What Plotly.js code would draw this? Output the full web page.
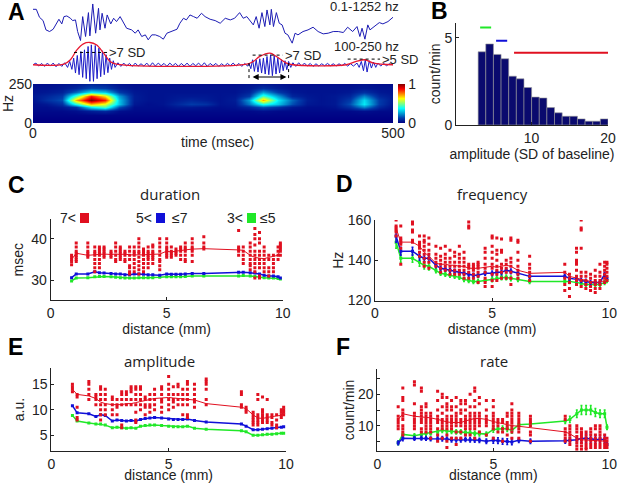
<!DOCTYPE html>
<html>
<head>
<meta charset="utf-8">
<script src="https://cdn.plot.ly/plotly-3.0.1.min.js"></script>
<style>body{margin:0;background:#fff}</style>
</head>
<body>
<div id="grafico" style="width:640px;height:483px"></div>
<script>
// panel A - traces
var rawT = [0,4.6,9,14,18,23,28,32,36,40,43,47,52,55,59,62,66,69,73,77,79,83,87,91,93,96,100,103,108,112,116,121,126,130,137,142,146,151,156,160,165,170,176,181,186,193,200,204,209,213,218,223,228,234,239,246,253,260,267,274,280,287,292,297,301,306,310,314,318,322,325,329,331,334,338,342,346,350,354,360,364,368,375,382,389,396,403,410,417,424,431,437,444,450,454,457,461,465,468,474,481,486,493,500];
var rawV = [112,112,88,78,50,45,52,68,82,68,90,92,85,78,80,45,18,90,30,102,32,128,40,115,50,100,55,95,68,85,75,90,68,55,50,40,50,30,35,20,35,35,30,22,40,45,52,70,85,80,95,90,85,100,90,82,78,70,85,80,85,102,85,90,80,65,90,55,102,60,110,65,112,60,102,70,65,40,35,10,40,35,45,50,58,45,38,40,45,45,42,58,45,60,30,55,22,65,50,60,72,68,75,88];
var filtT = [0,4,8,12,16,20,24,28,32,36,40,44,48,51,54,56.5,59,61.5,64,66.5,69,71.5,74,76.5,79,81,84,86.5,89,91.5,94,96.5,99,101.5,104,106.5,109,111.5,114,118,122,126,130,134,138,142,146,150,154,158,162,166,170,174,178,182,186,190,194,198,202,206,210,214,218,222,226,230,234,238,242,246,250,254,258,262,266,270,274,278,282,286,290,294,298,300,302.5,305,307.5,310,312.5,315,317.5,320,322.5,325,327.5,330,332.5,335,337.5,340,342.5,345,347.5,350,352.5,355,358,361,365,369,373,377,381,385,389,393,397,401,405,409,413,417,421,425,429,433,437,441,445,450,453,456,459,461.5,464,467,470,473,476,479,483,487,491,495,500];
var filtV = [0,5,-4,4,-5,5,-4,5,-6,4,-5,6,-8,10,-14,20,-25,28,-30,40,-38,45,-42,55,-50,60,-50,58,-42,50,-36,42,-30,30,-24,20,-14,12,-8,6,-5,5,-4,4,-5,5,-4,3,-4,5,-5,6,-4,5,-3,4,-5,5,-3,4,-5,4,-4,5,-5,4,-3,5,-4,6,-5,4,-3,4,-5,3,-4,4,-3,5,-4,4,-5,4,-4,5,-12,15,-20,15,-22,18,-25,20,-28,25,-30,30,-33,28,-28,20,-25,15,-18,12,-15,10,-8,6,-5,6,-4,5,-4,4,-5,3,-4,3,-3,4,-3,3,-4,3,-3,4,-4,3,-4,5,-8,10,-18,15,-22,12,-10,8,-8,5,-4,4,-3,3,0];
var envT = [0,43,52,61,70,79,88,98,107,116,297,306,315,329,338,352,361,435,449,461,473,500];
var envV = [0,2,15,45,63,67,60,35,10,2,2,10,25,35,25,5,0,0,10,15,5,0];

// panel A - spectrogram
var specT = [0,20,40,60,80,100,120,140,160,180,200,220,240,260,280,300,320,340,360,380,400,420,440,460,480,500];
var specF = [0,25,50,75,100,125,150,175,200,225,250];
var specZ = [
[0,0,0,0,0,0,0,0,0,0,0,0,0,0,0,0,0,0,0,0,0,0,0,0,0,0],
[0,0,0,0,0,0,0,0,0,0,0,0,0,0,0,0,0,0,0,0,0,0,0,0,0,0],
[.01,.01,.01,.01,.01,.01,.01,.01,.01,.01,.01,.01,.01,.01,.01,.01,.01,.01,.01,.01,.01,.01,.01,.01,.01,.01],
[.02,.02,.02,.03,.06,.08,.03,.02,.02,.02,.02,.02,.02,.02,.02,.02,.03,.02,.02,.02,.02,.02,.02,.03,.02,.02],
[.03,.03,.05,.10,.35,.45,.15,.03,.03,.03,.05,.05,.04,.03,.04,.08,.15,.10,.05,.03,.03,.04,.10,.22,.08,.03],
[.03,.05,.10,.40,.70,.60,.30,.05,.03,.04,.08,.12,.10,.04,.05,.20,.40,.30,.15,.05,.04,.05,.15,.35,.12,.04],
[.04,.10,.15,.70,1.0,.85,.30,.06,.04,.04,.06,.08,.06,.04,.06,.25,.70,.35,.18,.06,.04,.05,.12,.33,.12,.05],
[.05,.08,.12,.45,.85,.65,.25,.06,.04,.04,.05,.05,.05,.04,.05,.12,.45,.25,.08,.05,.04,.05,.08,.22,.08,.05],
[.04,.05,.07,.18,.35,.30,.12,.05,.04,.04,.04,.04,.04,.04,.04,.07,.25,.12,.05,.04,.04,.04,.05,.10,.05,.04],
[.04,.04,.05,.08,.14,.12,.06,.04,.04,.04,.04,.04,.04,.04,.04,.05,.10,.06,.04,.04,.04,.04,.04,.05,.04,.04],
[.03,.03,.04,.05,.08,.07,.04,.03,.03,.03,.03,.03,.03,.03,.03,.04,.05,.04,.03,.03,.03,.03,.03,.04,.03,.03]
];

// panel B - histogram
var ampBins = [3.5,4.5,5.5,6.5,7.5,8.5,9.5,10.5,11.5,12.5,13.5,14.5,15.5,16.5,17.5,18.5,19.5];
var ampRate = [4.2,4.65,4.05,3.8,2.8,2.65,2.15,1.6,1.55,1.0,0.7,0.5,0.5,0.35,0.22,0.22,0.35];

// panels C-F, electrode distances (mm)
var dist = [0.9,1.1,1.6,1.9,2.1,2.3,2.6,2.8,3.0,3.2,3.4,3.6,3.8,4.0,4.2,4.4,4.7,5.0,5.2,5.4,5.6,5.8,6.1,6.6,8.1,8.3,8.6,8.8,9.0,9.2,9.4,9.6,9.8,9.9];

var durDots = [[33.7,34.5,35,35.5,36],[34.5,35,35.5,36,36.5,37,38,39],[35.5,36,36.5,37,38,39],[32,33,34,35,36,36.5,37,38],[33,34,35,36,36.5,37,37.5,38],[35.5,36,36.5,37,37.5,38],[35.5,36,36.5,37],[34.5,35,36,37,38,39],[35,35.5,36,36.5,37,37.5,38],[34.5,35,36,36.5,37],[31.5,32,33,33.5,35,36,37,38],[32,33,34,35,36,36.5,37,38],[31.5,32.5,33.5,34.5,35.5,36.5,37,38,39,40],[32,33,34,35,36,36.5,37,37.5],[33,34,35,35.5,36,36.5,37,38],[34,35,35.5,36,36.5,37,38,38.5],[32.5,33.5,34.5,35,36,37,38,39,40],[35.5,36,36.5,37,37.5,38,39,40],[35.5,36,36.5,37,38],[36,36.5,37,37.5],[35,36,37,37.5,38],[34.5,35,36,37,37.5,38,39],[34.5,36,37,37.5,38,39,40],[37.5,38,39,40.5],[36,37,37.5,38,42],[34,35,36,37,38],[32.5,33.5,34,35,36,37,38,39],[30.5,32,33,34,35,36,37,38.5,40,41,42.5],[30.5,31,33,34,35,36,37,39,40,41.5],[32,33,34,35,36,37,38],[31,32,33,35,36],[32,33,34,35,36],[35,36,37,38],[36,37,37.5,38,38.5,39]];
var durRed = [35,36.5,36,36.2,36.2,36.3,36.2,36.3,36.2,36.3,36.1,36.1,36,36.1,36.2,36.3,36.3,37,36.8,37,37.2,37.3,37.5,37.6,37.3,37.2,36,35.5,35.3,35.2,35.5,35.8,36,37.5];
var durBlue = [30.6,31.5,31.5,32,31.8,31.7,31.6,31.5,31.5,31.3,31.3,31.5,31.5,31.4,31.3,31.3,31.2,31.5,31.4,31.4,31.4,31.5,31.6,31.6,31.9,31.9,31.8,31.7,31.5,31.2,31,31,30.8,30.5];
var durGreen = [29.8,30.5,30.6,30.8,30.9,30.9,30.8,30.7,30.6,30.5,30.5,30.5,30.6,30.6,30.6,30.6,30.7,30.8,30.8,30.8,30.8,30.9,31,31,31,31.1,31,30.9,30.7,30.6,30.5,30.5,30.4,30.3];

var freqDots = [[152,154,155,156,157,160],[138,146,148,149,150,151,157],[149,150,154,155,158,159],[142,144,146,147,148,149,152],[137,139,141,143,145,147,149,150,152],[136,139,141,143,145,148,151],[137,139,141,143,147],[134,136,138,140,142,146],[135,137,139,141,143,147],[133,135,137,139,141,145],[133,135,137,139,142,144],[133,135,137,139,141,143,147],[131,133,135,137,139,141,144],[131,134,136,137,138,156,157,159],[131,133,135,136,137,138],[129,132,134,136,137,138,139],[127,129,131,134,136,138,141,144,146],[127,130,133,136,138,141,144,147,151,152],[130,133,135,137,140,143,145,151],[131,134,136,138,144,145,150.5],[131,134,136,138,140],[128,131,134,137,139,141,150,151],[131,133,135,137,140,144,149,150],[130,132,134,136,138,142],[125,128,131,134,138],[122,126,129,131,133],[128,130,132,135,138,139,140,144,146],[127,130,132,134,146,155,156,160],[126,128,130,132,134],[125,127,129,131,133],[124,126,128,130,132,135],[126,128,130,132,134,138],[129,131,133,135,137,139],[130,132,134,136,138,139]];
var freqRed = [156,149,149,147,144,142,138.5,138,138,137.5,137.5,137,137,136,136,136,136.5,137,136.5,137,137.5,137,135,133.5,134,132,131,130.5,130,129.5,129,129,130,131];
var freqBlue = [152,144.5,144.5,142,141,141,137.5,136,135.5,135,134.5,134,133.5,133,132.5,132.5,133.5,133.5,134,134,135,134.5,133.5,132,132,131,130.5,130,129.5,129,129,129,133,131];
var freqGreen = [149,141,141,139,137.5,137,135,133.5,133,132.5,132,131.5,130.5,130,129.5,129.5,130,130.5,131,131.5,131.5,131,130.5,129.5,129.5,129.5,129,128.5,128,128,128,128,129,130];
var freqErr = [3,2,2,2,1.8,1.8,1.2,1,1,1,1,1,1,1,1,1,1,1.2,1.2,1.2,1.2,1.2,1,1,1,1,1,1,1,1,1,1,1,1];

var ampDots = [[13.5,14,14.5,15],[8,8.5,10.5,12.5,13],[12,13,14,15,15.5],[11,12,12.5,13],[8,9,10,11,12,13,14,14.5],[9,10,11,12,13,14],[9,10,11,12,12.5],[9,10.5,11,12],[6.5,7,11,12,13,13.5],[11,12,13,13.5],[11,12,13.5,14,14.5],[7.5,8,9.5,11,12,13,14,14.5],[10,11,12,13,14,14.5],[9,10.5,11,12,12.5],[9.5,10.5,11,12,13],[10,11,12,13,14],[9.5,10.5,11.5,12,13,14,14.5],[10,11,12,13,14,15,16.5],[10.5,11.5,12,13,14.5],[11,12,13,14.5,15],[9,11,12,13,14],[8.5,9,11,12,13,14,15,15.5],[10.5,11.5,12,13,14,15],[11,12,14,15,15.5,16],[10.5,11,13,13.5],[9.5,10,10.5],[7,7.5,8,8.5,9,9.5],[7,7.5,8,8.5,9,12,13],[7.5,8,8.5,9,9.5,10,12.5],[7.5,8,8.5,9,12],[7,7.5,8.5,9],[6.5,7,8,9],[8.5,9,9.5,10],[9,9.5,10,10.5]];
var ampRed = [14,13,12.7,12.2,11.5,11.2,11,11,11,11.2,11.2,11.4,11.6,11.8,12,12.2,12.3,12.4,12.3,12.2,12.1,12,11.9,11.2,10.5,10.2,9,8.4,8.3,8.5,8.7,8.8,8.9,9.5];
var ampBlue = [10.8,9.4,9.2,8.7,9,8.9,7.8,8,7.9,7.8,7.9,7.8,8.1,8.3,8.4,8.5,8.4,8.2,8.1,8.1,8.1,8.2,7.9,7.6,7.2,6.8,6.1,6.1,6.2,6.3,6.4,6.5,6.6,6.7];
var ampGreen = [8.9,7.8,7.4,7.2,7.2,7,6.5,6.6,6.5,6.4,6.5,6.4,6.8,6.9,7,7,6.9,6.8,6.7,6.7,6.7,6.8,6.4,6.2,5.9,5.7,5,5,5.1,5.2,5.2,5.3,5.4,5.4];

var rateDots = [[9,10,11,12,13,16],[7,8,9,10,12,13,14,15,18,19,22],[9,10,11,12,13,14,17,23,24],[8,9,11,12,13,14,15,16,21,22],[8,9,10,11,12,13,14,16,17],[6,8,9,10,11,12,13,14],[5,7,9,11,12,13,15,18,21],[6,9,10,11,12,14,16,19,20],[3,5,7,9,10,11,12,13,15,16,17,19],[6,9,10,11,12,13,15,16,18],[4,6,8,10,11,12,13,14,16,19],[6,8,10,11,12,14,15,17,18],[7,9,10,11,12,13,15,17,18],[7,9,10,11,12,13,14,16,20],[6,9,10,11,12,13,14,16,18,21,22],[8,10,11,12,13,14,17,19],[7,10,11,12,13,15,18],[6,9,10,11,12,13,14,16,18],[8,10,11,12],[5,8,9,11,12],[7,9,10,11,13,14],[6,8,9,10,11,12,13,14,15,17],[6,8,9,10,11,12,13,14],[5,7,8,10,11,12,13],[5,6,7,8,9,12,13],[4,5,6,7,8,9,10],[2.5,3.5,4.5,5.5,6.5,8,9,10],[2.5,3.5,4.5,5.5,6.5,7.5,8,9],[2.5,3,4,5,6,7,8],[3,4,5,6,7,8,9],[3,4,5,6,7,9,10],[3,4,5,6,7,8,9,10],[3,4,5,6,7],[3,4,5,6]];
var rateRed = [12,13.8,13,12.8,12.8,12.5,12,11.5,11.2,11,11,11,11.5,12,12.3,12.3,12,11.3,11,10.7,10.3,10,9.8,9.3,8,7.4,6,5.5,5.4,5.3,5.3,5.3,5.2,5];
var rateBlue = [4.5,6,5.9,6,5.9,5.8,5.8,5.8,5.7,5.5,5.5,5.5,5.6,5.5,5.4,5.3,5,5.3,5.2,5,4.9,4.8,5.3,5,5.2,5.3,5.5,6,6,5.8,5.6,5.7,5.6,4];
var rateGreen = [4.5,7.2,6.8,7.2,7.5,7.6,8,8.5,8.3,8.2,8,8,7.8,7.7,7.5,7.4,7.3,8.8,9,9,9,8.5,10.3,10.5,11.5,12,13.8,15,15,15,14.2,13.8,13.8,9.5];
var rateErr = [0.6,0.8,0.6,0.6,0.6,0.6,0.7,0.7,0.7,0.7,0.7,0.7,0.7,0.7,0.7,0.7,0.7,0.9,0.9,0.9,0.9,0.9,0.7,0.7,0.8,1,1.2,1.4,1.4,1.4,1.3,1.2,1.2,0.7];

var ROJO = "#e01020", AZUL = "#1010d8", VERDE = "#20e828", NEGRO = "#222";
var W = 640, H = 483;
var fuente = "Liberation Sans, Arial, sans-serif";

function dx(l, r) { return [l / W, r / W]; }
function dy(t, b) { return [1 - b / H, 1 - t / H]; }

function ejeX(d, anchor, range, ticks, title, standoff) {
  return {domain: d, anchor: anchor, range: range, tickvals: ticks, ticks: "inside", ticklen: 3,
    tickcolor: NEGRO, showline: true, linecolor: NEGRO, linewidth: 1, showgrid: false, zeroline: false,
    tickfont: {size: 14}, title: {text: title || "", font: {size: 14}, standoff: standoff || 0}};
}
function ejeY(d, anchor, range, ticks, labels, title, standoff) {
  return {domain: d, anchor: anchor, range: range, tickvals: ticks, ticktext: labels, ticks: "inside", ticklen: 3,
    tickcolor: NEGRO, showline: true, linecolor: NEGRO, linewidth: 1, showgrid: false, zeroline: false,
    tickfont: {size: 14}, title: {text: title || "", font: {size: 14}, standoff: standoff || 0}};
}
function oculto(d, anchor, range) {
  return {domain: d, anchor: anchor, range: range, visible: false, fixedrange: true};
}

// dots + the three lines of one panel
function panel(xa, ya, dots, rojo, azul, verde, err) {
  var px = [], py = [];
  dots.forEach(function (col, i) {
    col.forEach(function (v) { px.push(dist[i]); py.push(v); });
  });
  var barras = err ? {type: "data", array: err, color: null, thickness: 1.5, width: 1} : undefined;
  function barrasDe(c) { return err ? {type: "data", array: err, color: c, thickness: 1.5, width: 1} : undefined; }
  return [
    {x: dist, y: verde, xaxis: xa, yaxis: ya, mode: "lines+markers", line: {color: VERDE, width: 1.5}, marker: {color: VERDE, size: 3, symbol: "square"}, error_y: barrasDe(VERDE)},
    {x: dist, y: azul, xaxis: xa, yaxis: ya, mode: "lines+markers", line: {color: AZUL, width: 1.5}, marker: {color: AZUL, size: 3, symbol: "square"}, error_y: barrasDe(AZUL)},
    {x: px, y: py, xaxis: xa, yaxis: ya, mode: "markers", marker: {color: ROJO, size: 3, symbol: "square"}},
    {x: dist, y: rojo, xaxis: xa, yaxis: ya, mode: "lines", line: {color: ROJO, width: 1}}
  ];
}

function umbral(x0, x1, v) {
  return {x: [x0, x1], y: [v, v], xaxis: "x", yaxis: "y2", mode: "lines", line: {color: "#000", width: 1, dash: "3px,3px"}};
}

var data = [
  {x: rawT, y: rawV, xaxis: "x", yaxis: "y", mode: "lines", line: {color: "#1c1cb4", width: 1}},
  {x: filtT, y: filtV, xaxis: "x", yaxis: "y2", mode: "lines", line: {color: "#1c1cc8", width: 1}},
  {x: envT, y: envV, xaxis: "x", yaxis: "y2", mode: "lines", line: {color: "#e81830", width: 1.3, shape: "spline"}},
  umbral(57, 103, 37), umbral(305, 347, 29), umbral(437, 482, 17),
  {x: [300, 300], y: [5, -43], xaxis: "x", yaxis: "y2", mode: "lines", line: {color: "#000", width: 1, dash: "dot"}},
  {x: [355, 355], y: [5, -43], xaxis: "x", yaxis: "y2", mode: "lines", line: {color: "#000", width: 1, dash: "dot"}},
  {x: specT, y: specF, z: specZ, xaxis: "x3", yaxis: "y3", type: "heatmap", zsmooth: "best", colorscale: "Jet", zmin: 0, zmax: 1,
    colorbar: {x: 398 / W, xanchor: "left", y: 1 - 123 / H, yanchor: "bottom", len: 39 / H, lenmode: "fraction", thickness: 7,
      outlinewidth: 0, tickvals: [0, 1], ticks: "", tickfont: {size: 14}, xpad: 0, ypad: 0}},
  {x: ampBins, y: ampRate, xaxis: "x4", yaxis: "y4", type: "bar", width: 1, marker: {color: "#0a0a6e", line: {color: "#999", width: 0.6}}},
  {x: [3.26, 4.7], y: [5.6, 5.6], xaxis: "x4", yaxis: "y4", mode: "lines", line: {color: VERDE, width: 2}},
  {x: [5.35, 6.8], y: [4.83, 4.83], xaxis: "x4", yaxis: "y4", mode: "lines", line: {color: AZUL, width: 2}},
  {x: [7.7, 20], y: [4.14, 4.14], xaxis: "x4", yaxis: "y4", mode: "lines", line: {color: ROJO, width: 2}}
];
data = data.concat(panel("x5", "y5", durDots, durRed, durBlue, durGreen));
data = data.concat(panel("x6", "y6", freqDots, freqRed, freqBlue, freqGreen, freqErr));
data = data.concat(panel("x7", "y7", ampDots, ampRed, ampBlue, ampGreen));
data = data.concat(panel("x8", "y8", rateDots, rateRed, rateBlue, rateGreen, rateErr));

function texto(t, x, y, size, extra) {
  var a = {text: t, xref: "paper", yref: "paper", x: x / W, y: 1 - y / H, showarrow: false, xanchor: "center", yanchor: "middle", font: {size: size}};
  for (var k in extra) a[k] = extra[k];
  return a;
}
function letra(t, x, y) { return texto(t, x, y, 23, {font: {size: 23, color: "#000", family: "Liberation Sans"}, xanchor: "left"}); }
function sd(t, x, v) { return {text: t, xref: "x", yref: "y2", x: x, y: v, showarrow: false, xanchor: "left", yanchor: "middle", font: {size: 13}, xshift: 0}; }
var tituloFont = {size: 15, family: "Open Sans", color: "#222"};

var annotations = [
  letra("<b>A</b>", 6, 12), letra("<b>B</b>", 429, 11), letra("<b>C</b>", 6, 185),
  letra("<b>D</b>", 334, 184), letra("<b>E</b>", 6, 347), letra("<b>F</b>", 334, 347),
  texto("0.1-1252 hz", 364, 7, 13), texto("100-250 hz", 366, 46, 13),
  sd("&gt;7 SD", 103, 37), sd("&gt;7 SD", 347, 29), sd("&gt;5 SD", 482, 17),
  {xref: "x", yref: "y2", x: 352, y: -37, axref: "x", ayref: "y2", ax: 303, ay: -37, text: "", showarrow: true, arrowhead: 2, arrowside: "end+start", arrowsize: 1, arrowwidth: 1.2, arrowcolor: "#000"},
  texto("time (msec)", 217, 142, 14),
  texto("duration", 170, 194, 15, {font: tituloFont}),
  texto("frequency", 492, 194, 15, {font: tituloFont}),
  texto("amplitude", 159, 361, 15, {font: tituloFont}),
  texto("rate", 494, 361, 15, {font: tituloFont}),
  texto("7&lt;", 68, 218, 14), texto("5&lt;", 144, 218, 14), texto("≤7", 180, 218, 14),
  texto("3&lt;", 235, 218, 14), texto("≤5", 268, 218, 14)
];

function cuadro(x, c) {
  return {type: "rect", xref: "paper", yref: "paper", x0: x / W, x1: (x + 9) / W, y0: 1 - 223 / H, y1: 1 - 213 / H, fillcolor: c, line: {width: 0}};
}

var layout = {
  width: W, height: H, margin: {l: 0, r: 0, t: 0, b: 0}, showlegend: false,
  paper_bgcolor: "#fff", plot_bgcolor: "rgba(0,0,0,0)", font: {family: fuente, size: 14, color: "#222"},
  annotations: annotations,
  shapes: [cuadro(80, ROJO), cuadro(156, AZUL), cuadro(247, VERDE)],
  xaxis: oculto(dx(33, 393), "y", [0, 500]),
  yaxis: oculto(dy(0, 83), "x", [-110, 140]),
  yaxis2: oculto(dy(0, 83), "x", [-55, 195]),
  xaxis3: {domain: dx(33, 393), anchor: "y3", range: [0, 500], tickvals: [0, 500], ticks: "", showline: false, showgrid: false, zeroline: false, tickfont: {size: 14}},
  yaxis3: {domain: dy(84, 123), anchor: "x3", range: [0, 250], tickvals: [0, 250], ticks: "", showline: false, showgrid: false, zeroline: false, tickfont: {size: 14}, title: {text: "Hz", font: {size: 14}, standoff: 0}},
  xaxis4: ejeX(dx(456, 608), "y4", [0.1, 20], [10, 20], "amplitude (SD of baseline)", 0),
  yaxis4: ejeY(dy(22.7, 125), "x4", [0, 5.87], [0, 5], ["0", "5"], "count/min", 0),
  xaxis5: ejeX(dx(50.7, 282.7), "y5", [0, 10], [0, 5, 10], "distance (mm)", 0),
  yaxis5: ejeY(dy(219.3, 300), "x5", [25.2, 44.7], [30, 40], ["30", "40"], "msec", 4),
  xaxis6: ejeX(dx(375, 609.3), "y6", [0, 10], [0, 5, 10], "distance (mm)", 0),
  yaxis6: ejeY(dy(220, 300.5), "x6", [120, 160], [120, 140, 160], ["120", "140", "160"], "Hz", 0),
  xaxis7: ejeX(dx(51.3, 286), "y7", [0, 10], [0, 5, 10], "distance (mm)", 0),
  yaxis7: ejeY(dy(368.3, 450.7), "x7", [2, 18.1], [5, 10, 15], ["5", "10", "15"], "a.u.", 4),
  xaxis8: ejeX(dx(377.3, 609.3), "y8", [0, 10], [0, 5, 10], "distance (mm)", 0),
  yaxis8: ejeY(dy(369.3, 450.7), "x8", [2, 28], [5, 10, 15, 20, 25], ["", "10", "", "20", ""], "count/min", 0)
};

Plotly.newPlot("grafico", data, layout, {displayModeBar: false, responsive: false});
</script>
</body>
</html>
